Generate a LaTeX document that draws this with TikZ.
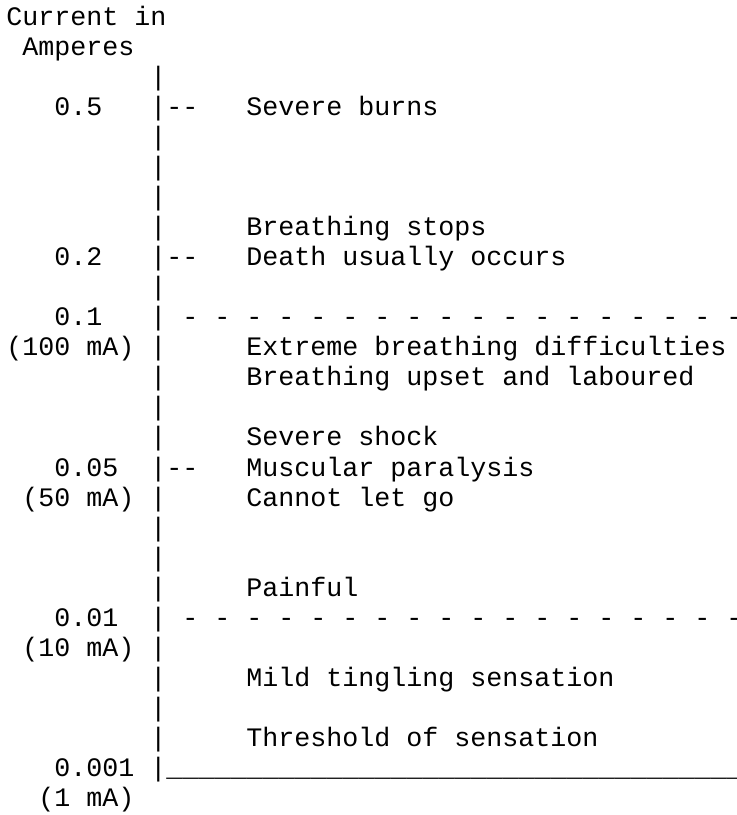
\documentclass[tikz,border=0pt]{standalone}
\usepackage{fontspec}
\newfontfamily\asciifont{Liberation Mono}

\begin{document}
\begin{tikzpicture}[x=12pt, y=-22.55pt]
	\tikzstyle{Ascii} = [inner sep=0pt, outer sep=0pt, anchor=base west, font=\asciifont\fontsize{20pt}{22.55pt}\selectfont]
	\tikzstyle{Value} = [Ascii]
	\tikzstyle{Effect} = [Ascii]
	
	\useasboundingbox (-4.7pt,18.75pt) rectangle (548.05pt,-592.5pt);
	
	% axis title
	\node (titleNode) [Ascii] at (0,0) {Current in};
	\node (unitNode) [Ascii] at (1,1) {Amperes};
	
	% plain axis bars
	\foreach \r in {2,4,5,6,7,9,11,12,13,14,16,17,18,19,21,22,23,24}
		\node (bar\r) [Ascii] at (9,\r) {|};
	
	% ticks and separators
	\node (tick05) [Ascii] at (9,3) {|-\kern0pt-};
	\node (tick02) [Ascii] at (9,8) {|-\kern0pt-};
	\node (sep01) [Ascii] at (9,10) {| - - - - - - - - - - - - - - - - - -};
	\node (tick005) [Ascii] at (9,15) {|-\kern0pt-};
	\node (sep001) [Ascii] at (9,20) {| - - - - - - - - - - - - - - - - - -};
	\node (base0001) [Ascii] at (9,25) {\detokenize{|____________________________________}};
	
	% current values
	\node (v05Node) [Value] at (3,3) {0.5};
	\node (v02Node) [Value] at (3,8) {0.2};
	\node (v01Node) [Value] at (3,10) {0.1};
	\node (ma100Node) [Value] at (0,11) {(100 mA)};
	\node (v005Node) [Value] at (3,15) {0.05};
	\node (ma50Node) [Value] at (1,16) {(50 mA)};
	\node (v001Node) [Value] at (3,20) {0.01};
	\node (ma10Node) [Value] at (1,21) {(10 mA)};
	\node (v0001Node) [Value] at (3,25) {0.001};
	\node (ma1Node) [Value] at (2,26) {(1 mA)};
	
	% effects
	\node (burnsNode) [Effect] at (15,3) {Severe burns};
	\node (stopsNode) [Effect] at (15,7) {Breathing stops};
	\node (deathNode) [Effect] at (15,8) {Death usually occurs};
	\node (extremeNode) [Effect] at (15,11) {Extreme breathing difficulties};
	\node (upsetNode) [Effect] at (15,12) {Breathing upset and laboured};
	\node (shockNode) [Effect] at (15,14) {Severe shock};
	\node (paralysisNode) [Effect] at (15,15) {Muscular paralysis};
	\node (letGoNode) [Effect] at (15,16) {Cannot let go};
	\node (painNode) [Effect] at (15,19) {Painful};
	\node (tingleNode) [Effect] at (15,22) {Mild tingling sensation};
	\node (thresholdNode) [Effect] at (15,24) {Threshold of sensation};
\end{tikzpicture}
\end{document}
